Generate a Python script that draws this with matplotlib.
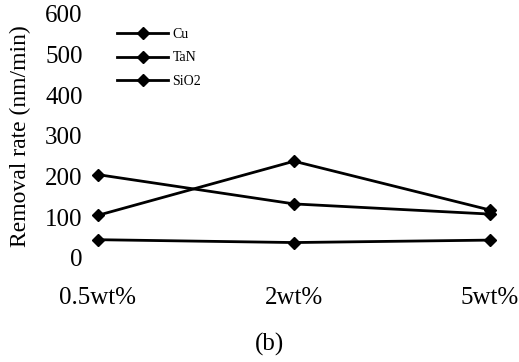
import matplotlib
matplotlib.use("Agg")
import matplotlib.pyplot as plt

# Slurry abrasive concentration vs removal rate.
categories = ["0.5wt%", "2wt%", "5wt%"]
series_names = ["Cu", "TaN", "SiO2"]
cu_rate = [105, 238, 118]
tan_rate = [205, 133, 108]
sio2_rate = [45, 38, 44]
y_ticks = [0, 100, 200, 300, 400, 500, 600]

plt.rcParams["font.family"] = ["Liberation Serif", "DejaVu Serif"]


def main():
    W, H = 519, 362
    fig = plt.figure(figsize=(W / 100, H / 100), dpi=100)
    ax = fig.add_axes([98 / W, 104 / H, 392 / W, 244 / H])

    x = list(range(len(categories)))
    for name, vals in zip(series_names, [cu_rate, tan_rate, sio2_rate]):
        ax.plot(x, vals, color="black", lw=2, marker="D", ms=6,
                clip_on=False, label=name)

    ax.set_xlim(0, len(categories) - 1)
    ax.set_ylim(0, 600)
    ax.set_xticks(x)
    ax.set_xticklabels(categories, fontsize=18)
    ax.set_yticks(y_ticks)
    ax.set_yticklabels([str(v) for v in y_ticks], fontsize=18)
    ax.tick_params(axis="both", length=0)
    ax.tick_params(axis="y", pad=11)
    ax.tick_params(axis="x", pad=21)
    for sp in ax.spines.values():
        sp.set_visible(False)

    # label sits in the left margin, centred a bit above the axes middle
    ax.set_ylabel("Removal rate (nm/min)", fontsize=17)
    ax.yaxis.set_label_coords(31 / W, 1 - 136 / H, transform=fig.transFigure)

    ax.legend(loc="upper left", bbox_to_anchor=(117 / W, 1 - 28 / H),
              bbox_transform=fig.transFigure, frameon=False,
              fontsize=10, numpoints=1, handlelength=3.7,
              handletextpad=0.3, labelspacing=0.75,
              borderpad=0, borderaxespad=0)

    fig.text(270 / W, 1 - 344 / H, "(b)", fontsize=18, ha="center", va="center")

    fig.savefig("out.png", dpi=100)


if __name__ == "__main__":
    main()
